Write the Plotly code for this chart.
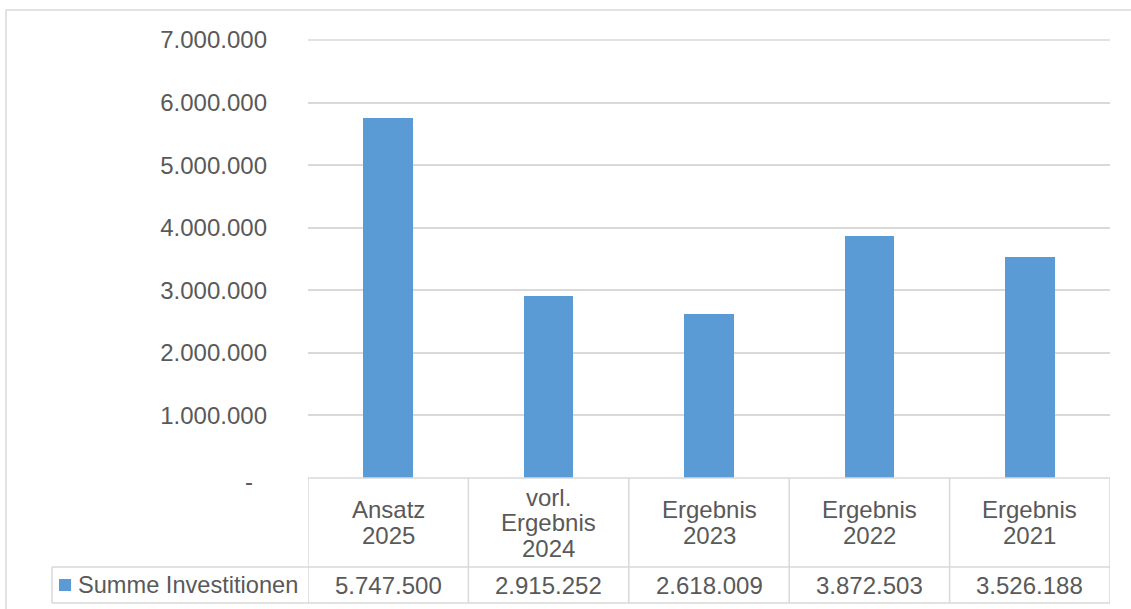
import plotly.graph_objects as go

# ---- data ----
categories = ["Ansatz<br>2025", "vorl.<br>Ergebnis<br>2024", "Ergebnis<br>2023", "Ergebnis<br>2022", "Ergebnis<br>2021"]
values = [5747500, 2915252, 2618009, 3872503, 3526188]
series_name = "Summe Investitionen"
y_tickvals = [0, 1000000, 2000000, 3000000, 4000000, 5000000, 6000000, 7000000]
y_ticktext = ["", "1.000.000", "2.000.000", "3.000.000", "4.000.000", "5.000.000", "6.000.000", "7.000.000"]
zero_label = "-"

# ---- layout constants ----
W, H = 1131, 609
L, R, T, B = 308, 21, 40, 131
PW, PH = W - L - R, H - T - B
BAR = "#5B9BD5"
TXT = "#595959"
GRID = "#D9D9D9"
FONT = "Liberation Sans, Arial, sans-serif"
FS = 24


def px(x):
    return (x - L) / PW


def py(y):
    return (H - B - y) / PH


def fmt(v):
    return f"{v:,}".replace(",", ".")


xcat = list(range(len(categories)))

fig = go.Figure()
fig.add_trace(go.Bar(x=xcat, y=values, width=0.31, marker=dict(color=BAR, line=dict(width=0)),
                     name=series_name, showlegend=False, hoverinfo="skip"))

shapes = []
annotations = []
lw = 1.5

# top gridline (at the upper edge of the value range)
shapes.append(dict(type="line", xref="paper", yref="paper", x0=0, x1=1, y0=1, y1=1,
                   line=dict(color=GRID, width=lw), layer="below"))

# table grid lines
y_top, y_mid, y_bot = 478, 567, 603
for i in range(len(categories) + 1):
    shapes.append(dict(type="line", xref="x", yref="paper", x0=i - 0.5, x1=i - 0.5,
                       y0=py(y_top), y1=py(y_bot), line=dict(color=GRID, width=lw)))
shapes.append(dict(type="line", xref="paper", yref="paper", x0=0, x1=1, y0=py(y_top), y1=py(y_top),
                   line=dict(color=GRID, width=lw)))
for yy in (y_mid, y_bot):
    shapes.append(dict(type="line", xref="paper", yref="paper", x0=px(52), x1=1, y0=py(yy), y1=py(yy),
                       line=dict(color=GRID, width=lw)))
shapes.append(dict(type="line", xref="paper", yref="paper", x0=px(52), x1=px(52), y0=py(y_mid), y1=py(y_bot),
                   line=dict(color=GRID, width=lw)))
# outer border
shapes.append(dict(type="line", xref="paper", yref="paper", x0=px(6), x1=px(W + 5), y0=py(10), y1=py(10),
                   line=dict(color=GRID, width=lw)))
shapes.append(dict(type="line", xref="paper", yref="paper", x0=px(6), x1=px(6), y0=py(10), y1=py(H + 5),
                   line=dict(color=GRID, width=lw)))
# legend key
shapes.append(dict(type="rect", xref="paper", yref="paper", x0=px(59), x1=px(71), y0=py(591), y1=py(579),
                   fillcolor=BAR, line=dict(width=0)))

# header texts
cell_c = (y_top + y_mid) / 2
spacing = 25.5
for i, cat in enumerate(categories):
    lines = cat.split("<br>")
    n = len(lines)
    for k, ln in enumerate(lines):
        yc = cell_c + (k - (n - 1) / 2) * spacing
        annotations.append(dict(x=i, xref="x", y=py(yc), yref="paper", text=ln, showarrow=False,
                                xanchor="center", yanchor="middle", font=dict(family=FONT, size=FS, color=TXT)))
    annotations.append(dict(x=i, xref="x", y=py((y_mid + y_bot) / 2), yref="paper", text=fmt(values[i]),
                            showarrow=False, xanchor="center", yanchor="middle",
                            font=dict(family=FONT, size=FS, color=TXT)))

annotations.append(dict(x=px(76), xref="paper", y=py((y_mid + y_bot) / 2), yref="paper", text=series_name,
                        showarrow=False, xanchor="left", yanchor="middle",
                        font=dict(family=FONT, size=23.6, color=TXT)))
annotations.append(dict(x=px(249), xref="paper", y=py(482), yref="paper", text=zero_label,
                        showarrow=False, xanchor="center", yanchor="middle",
                        font=dict(family=FONT, size=FS, color=TXT)))

fig.update_layout(
    width=W, height=H,
    margin=dict(l=L, r=R, t=T, b=B, pad=0),
    paper_bgcolor="white", plot_bgcolor="white",
    shapes=shapes, annotations=annotations,
    bargap=0,
    xaxis=dict(range=[-0.5, len(categories) - 0.5], showticklabels=False, showgrid=False,
               zeroline=False, showline=False, ticks="", fixedrange=True),
    yaxis=dict(range=[0, 7000000], tickvals=y_tickvals, ticktext=y_ticktext, showgrid=True,
               gridcolor=GRID, gridwidth=lw, zeroline=False, showline=False, ticks="",
               ticklabelstandoff=40,
               tickfont=dict(family=FONT, size=FS, color=TXT), fixedrange=True),
    showlegend=False,
)

fig.write_html("out.html", config={"displayModeBar": False})
